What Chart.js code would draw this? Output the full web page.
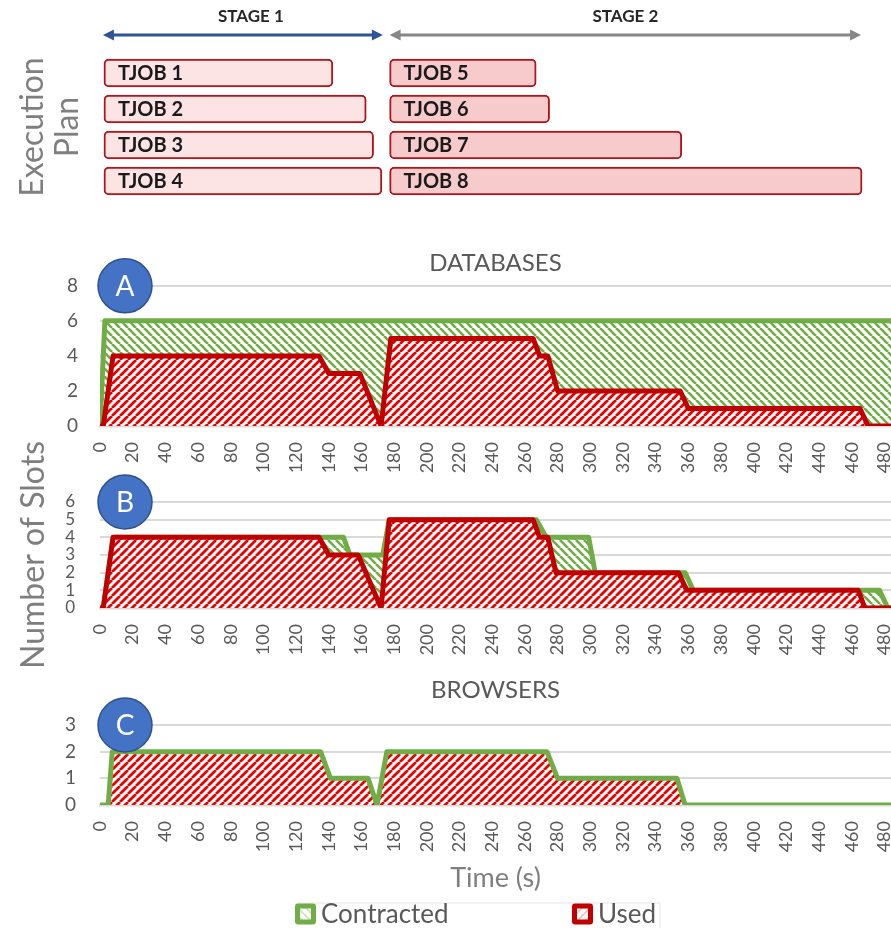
<!DOCTYPE html>
<html>
<head>
<meta charset="utf-8">
<script src="https://cdn.jsdelivr.net/npm/chart.js@4.4.0/dist/chart.umd.min.js"></script>
<style>
  html, body { margin: 0; padding: 0; background: #fff; }
  body { width: 891px; height: 928px; position: relative; overflow: hidden; }
  canvas { position: absolute; left: 0; }
  #planChart { top: 0; }
  #dbChart { top: 240px; }
  #bChart { top: 420px; }
  #brChart { top: 650px; }
</style>
</head>
<body>
<canvas id="planChart" width="891" height="212"></canvas>
<canvas id="dbChart" width="891" height="245"></canvas>
<canvas id="bChart" width="891" height="265"></canvas>
<canvas id="brChart" width="891" height="278"></canvas>
<script>
// ---- data ----
const timeMax = 484;

// execution plan
const planRows = ['R1', 'R2', 'R3', 'R4'];
const stage1Jobs = ['TJOB 1', 'TJOB 2', 'TJOB 3', 'TJOB 4'];
const stage1Start = [2.4, 2.4, 2.4, 2.4];
const stage1End = [142.5, 162.9, 167.4, 172.5];
const stage2Jobs = ['TJOB 5', 'TJOB 6', 'TJOB 7', 'TJOB 8'];
const stage2Start = [177.2, 177.2, 177.2, 177.2];
const stage2End = [266.9, 275.1, 356, 466.3];
const stageNames = ['STAGE 1', 'STAGE 2'];
const stageFrom = [1.8, 177.2];
const stageTo = [173.1, 465.7];

// A - databases
const dbContractedT = [0, 3, 484];
const dbContractedV = [0, 6, 6];
const dbUsedT = [0, 2, 8, 134, 140, 159, 172, 178, 265, 269, 274, 280, 355, 360, 465, 470, 484];
const dbUsedV = [0, 0, 4, 4, 3, 3, 0, 5, 5, 4, 4, 2, 2, 1, 1, 0, 0];

// B
const bContractedT = [0, 2, 8, 149, 153, 173, 177, 267, 273, 299, 303, 358, 363, 477, 482, 484];
const bContractedV = [0, 0, 4, 4, 3, 3, 5, 5, 4, 4, 2, 2, 1, 1, 0, 0];
const bUsedT = [0, 2, 8, 134, 140, 158, 172, 177, 265, 269, 274, 279, 354, 359, 464, 468, 484];
const bUsedV = [0, 0, 4, 4, 3, 3, 0, 5, 5, 4, 4, 2, 2, 1, 1, 0, 0];

// C - browsers
const brContractedT = [0, 5, 7.5, 135, 141, 164, 169.5, 175.5, 273.5, 280, 353, 358, 484];
const brContractedV = [0, 0, 2, 2, 1, 1, 0, 2, 2, 1, 1, 0, 0];
const brUsedT = [0, 5, 7.5, 135, 141, 164, 169.5, 175.5, 273.5, 280, 353, 358, 484];
const brUsedV = [0, 0, 2, 2, 1, 1, 0, 2, 2, 1, 1, 0, 0];

const legendNames = ['Contracted', 'Used'];

// ---- styling ----
const FONT = 'Lato, "Open Sans", sans-serif';
const GREEN = '#70AD47';
const DARKRED = '#C00000';
const HATCHRED = '#E80000';
Chart.defaults.font.family = FONT;
Chart.defaults.color = '#595959';

function pts(t, v) {
  return t.map(function (x, i) { return { x: x, y: v[i] }; });
}

function hatch(ctx, color, dir, lw) {
  const s = 8;
  const c = document.createElement('canvas');
  c.width = s; c.height = s;
  const g = c.getContext('2d');
  g.fillStyle = '#fff';
  g.fillRect(0, 0, s, s);
  g.strokeStyle = color;
  g.lineWidth = lw;
  g.beginPath();
  for (let k = -1; k <= 1; k++) {
    if (dir === '/') { g.moveTo(k * s, s); g.lineTo(k * s + s, 0); }
    else { g.moveTo(k * s, 0); g.lineTo(k * s + s, s); }
  }
  g.stroke();
  return ctx.createPattern(c, 'repeat');
}

// blue lettered circle at top-left of the plot
const badge = {
  id: 'badge',
  afterDatasetsDraw(chart, args, opts) {
    const { ctx, chartArea } = chart;
    const x = chartArea.left + 25, y = chartArea.top;
    ctx.save();
    ctx.beginPath();
    ctx.arc(x, y, 27, 0, Math.PI * 2);
    ctx.fillStyle = '#4472C4';
    ctx.fill();
    ctx.lineWidth = 1.5;
    ctx.strokeStyle = '#2F528F';
    ctx.stroke();
    ctx.fillStyle = '#fff';
    ctx.font = '28px ' + FONT;
    ctx.textAlign = 'center';
    ctx.textBaseline = 'middle';
    ctx.fillText(opts.text, x, y + 1);
    ctx.restore();
  }
};

function timeAxis(h, title) {
  return {
    type: 'linear',
    min: 0,
    max: timeMax,
    grid: { display: false, drawTicks: false },
    border: { display: true, color: '#D9D9D9', width: 2.5 },
    ticks: {
      stepSize: 20, includeBounds: false, autoSkip: false,
      minRotation: 90, maxRotation: 90, padding: 16,
      font: { size: 18 }, color: '#595959'
    },
    title: title || { display: false },
    afterFit: function (s) { s.height = h; s.paddingLeft = 0; s.paddingRight = 0; }
  };
}

function slotAxis(max, step, pad, size, title) {
  return {
    min: 0,
    max: max,
    ticks: { stepSize: step, autoSkip: false, padding: pad, font: { size: size }, color: '#595959' },
    grid: { color: '#D9D9D9', lineWidth: 2, drawTicks: false },
    border: { display: false },
    title: title || { display: false },
    afterFit: function (s) { s.width = 100; s.paddingTop = 0; s.paddingBottom = 0; }
  };
}

function lineSet(label, t, v, color, fill, order, width) {
  return {
    label: label,
    data: pts(t, v),
    borderColor: color,
    backgroundColor: fill || 'transparent',
    fill: fill ? 'origin' : false,
    borderWidth: width,
    borderJoinStyle: 'round',
    pointRadius: 0,
    tension: 0,
    order: order
  };
}

// ---- execution plan ----
const planDecor = {
  id: 'planDecor',
  afterDatasetsDraw(chart) {
    const { ctx, chartArea } = chart;
    const xs = chart.scales.x;
    ctx.save();
    ctx.font = 'bold 20px ' + FONT;
    ctx.fillStyle = '#1A1A1A';
    ctx.textAlign = 'left';
    ctx.textBaseline = 'middle';
    chart.data.datasets.forEach(function (ds, di) {
      chart.getDatasetMeta(di).data.forEach(function (bar, i) {
        ctx.fillText(ds.jobs[i], Math.min(bar.x, bar.base) + 14, bar.y + 1);
      });
    });
    const colors = ['#2F5597', '#878787'];
    const y = chartArea.top - 20;
    stageNames.forEach(function (name, i) {
      const x1 = xs.getPixelForValue(stageFrom[i]);
      const x2 = xs.getPixelForValue(stageTo[i]);
      ctx.strokeStyle = colors[i];
      ctx.fillStyle = colors[i];
      ctx.lineWidth = 3;
      ctx.beginPath();
      ctx.moveTo(x1 + 6, y);
      ctx.lineTo(x2 - 6, y);
      ctx.stroke();
      ctx.beginPath();
      ctx.moveTo(x1, y); ctx.lineTo(x1 + 11, y - 5.5); ctx.lineTo(x1 + 11, y + 5.5); ctx.closePath();
      ctx.moveTo(x2, y); ctx.lineTo(x2 - 11, y - 5.5); ctx.lineTo(x2 - 11, y + 5.5); ctx.closePath();
      ctx.fill();
      ctx.fillStyle = '#262626';
      ctx.font = 'bold 17px ' + FONT;
      ctx.textAlign = 'center';
      ctx.fillText(name, (x1 + x2) / 2 + (i === 0 ? 8 : 0), chartArea.top - 38);
    });
    ctx.restore();
  }
};

new Chart(document.getElementById('planChart'), {
  type: 'bar',
  data: {
    labels: planRows,
    datasets: [
      {
        label: 'Stage 1',
        jobs: stage1Jobs,
        data: stage1Start.map(function (s, i) { return [s, stage1End[i]]; }),
        backgroundColor: '#FCE4E5',
        borderColor: '#A8181D',
        borderWidth: 2,
        borderSkipped: false,
        borderRadius: 5,
        barThickness: 28
      },
      {
        label: 'Stage 2',
        jobs: stage2Jobs,
        data: stage2Start.map(function (s, i) { return [s, stage2End[i]]; }),
        backgroundColor: '#F7CBCB',
        borderColor: '#A8181D',
        borderWidth: 2,
        borderSkipped: false,
        borderRadius: 5,
        barThickness: 28
      }
    ]
  },
  options: {
    indexAxis: 'y',
    responsive: false,
    animation: false,
    events: [],
    grouped: false,
    layout: { padding: { top: 55, bottom: 13, left: 0, right: 0 } },
    plugins: { legend: { display: false }, tooltip: { enabled: false } },
    scales: {
      x: { type: 'linear', min: 0, max: timeMax, display: false },
      y: {
        ticks: { display: false },
        grid: { display: false },
        border: { display: false },
        title: {
          display: true,
          text: ['Execution', 'Plan'],
          color: '#7F7F7F',
          font: { size: 32, lineHeight: 1.1 },
          padding: { top: 15, bottom: 0 }
        },
        afterFit: function (s) { s.width = 100; }
      }
    }
  },
  plugins: [planDecor]
});

// ---- A: databases ----
const ctxA = document.getElementById('dbChart').getContext('2d');
new Chart(ctxA, {
  type: 'line',
  data: {
    datasets: [
      lineSet('Contracted', dbContractedT, dbContractedV, GREEN, hatch(ctxA, GREEN, '\\', 2.6), 1, 5),
      lineSet('Used', dbUsedT, dbUsedV, DARKRED, hatch(ctxA, HATCHRED, '/', 2.8), 0, 5)
    ]
  },
  options: {
    responsive: false,
    animation: false,
    events: [],
    layout: { padding: 0 },
    plugins: {
      legend: { display: false },
      tooltip: { enabled: false },
      title: {
        display: true, text: 'DATABASES', fullSize: false, color: '#595959',
        font: { size: 24, weight: 'normal' }, padding: { top: 9, bottom: 8 }
      },
      badge: { text: 'A' }
    },
    scales: {
      x: timeAxis(59),
      y: slotAxis(8, 2, 22, 19)
    }
  },
  plugins: [badge]
});

// ---- B ----
const ctxB = document.getElementById('bChart').getContext('2d');
new Chart(ctxB, {
  type: 'line',
  data: {
    datasets: [
      lineSet('Contracted', bContractedT, bContractedV, GREEN, hatch(ctxB, GREEN, '\\', 2.6), 1, 5),
      lineSet('Used', bUsedT, bUsedV, DARKRED, hatch(ctxB, HATCHRED, '/', 2.8), 0, 5)
    ]
  },
  options: {
    responsive: false,
    animation: false,
    events: [],
    layout: { padding: { top: 82, bottom: 17, left: 0, right: 0 } },
    plugins: {
      legend: { display: false },
      tooltip: { enabled: false },
      badge: { text: 'B' }
    },
    scales: {
      x: timeAxis(60),
      y: slotAxis(6, 1, 25, 17, {
        display: true, text: 'Number of Slots', color: '#7F7F7F',
        font: { size: 32 }, padding: { top: 14, bottom: 0 }
      })
    }
  },
  plugins: [badge]
});

// ---- C: browsers ----
const bottomLegend = {
  id: 'bottomLegend',
  afterDraw(chart) {
    const { ctx, chartArea } = chart;
    const y = chart.height - 14;
    const colors = [GREEN, DARKRED];
    const lights = ['#C5E0B4', '#F4B6B6'];
    let x = chartArea.left + 195;
    ctx.save();
    ctx.strokeStyle = '#E6E6E6';
    ctx.lineWidth = 1;
    ctx.beginPath();
    ctx.moveTo(x, y - 11); ctx.lineTo(x + 365, y - 11); ctx.lineTo(x + 365, chart.height);
    ctx.stroke();
    ctx.font = '26px ' + FONT;
    ctx.textBaseline = 'middle';
    ctx.textAlign = 'left';
    legendNames.forEach(function (name, i) {
      ctx.fillStyle = colors[i];
      ctx.beginPath();
      ctx.roundRect(x, y - 10.5, 21, 21, 3);
      ctx.fill();
      ctx.fillStyle = hatch(ctx, lights[i], i === 0 ? '\\' : '/', 1.5);
      ctx.fillRect(x + 5, y - 5.5, 11, 11);
      ctx.fillStyle = '#595959';
      ctx.fillText(name, x + 26, y + 1);
      x += 277;
    });
    ctx.restore();
  }
};

const ctxC = document.getElementById('brChart').getContext('2d');
new Chart(ctxC, {
  type: 'line',
  data: {
    datasets: [
      lineSet('Contracted', brContractedT, brContractedV, GREEN, null, 0, 5),
      lineSet('Used', brUsedT, brUsedV, 'transparent', hatch(ctxC, HATCHRED, '/', 2.8), 1, 1)
    ]
  },
  options: {
    responsive: false,
    animation: false,
    events: [],
    layout: { padding: { top: 0, bottom: 36, left: 0, right: 0 } },
    plugins: {
      legend: { display: false },
      tooltip: { enabled: false },
      title: {
        display: true, text: 'BROWSERS', fullSize: false, color: '#595959',
        font: { size: 24, weight: 'normal' }, padding: { top: 25.6, bottom: 20.6 }
      },
      badge: { text: 'C' }
    },
    scales: {
      x: timeAxis(87, {
        display: true, text: 'Time (s)', color: '#7F7F7F',
        font: { size: 27, lineHeight: 1 }, padding: { top: 0, bottom: 0 }
      }),
      y: slotAxis(3, 1, 24, 19)
    }
  },
  plugins: [badge, bottomLegend]
});
</script>
</body>
</html>
